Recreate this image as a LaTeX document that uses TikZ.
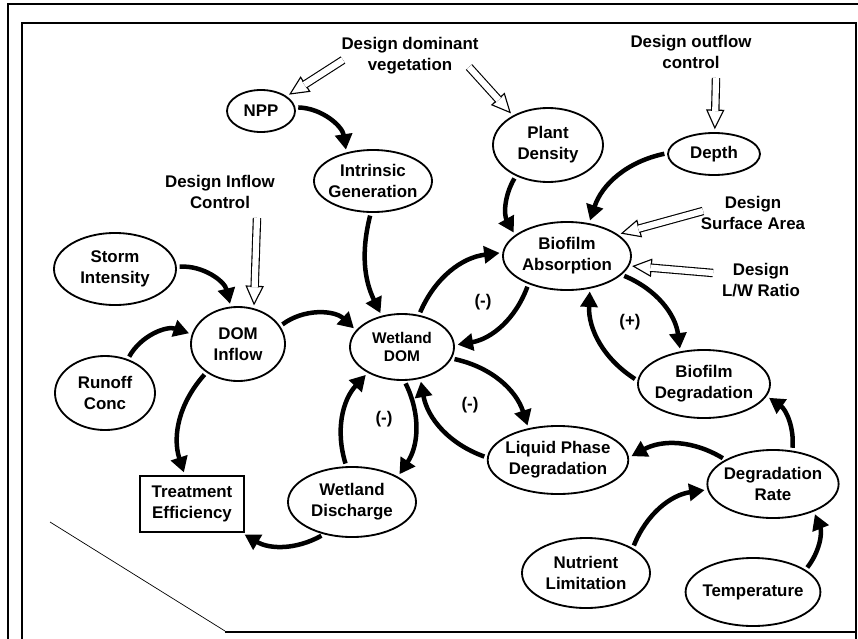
\documentclass[tikz,border=0pt]{standalone}
\usepackage{fontspec}
\setmainfont{Liberation Sans}
\usetikzlibrary{shapes.geometric,arrows.meta}

\tikzset{
  box/.style={ellipse, draw, line width=1.3pt, align=center,
    font=\fontsize{12}{15}\selectfont\bfseries, inner xsep=-2pt, inner ysep=0pt},
  design/.style={align=center, inner sep=0pt, font=\fontsize{12}{15}\selectfont\bfseries},
  sign/.style={inner sep=0pt, font=\fontsize{12}{14}\selectfont\bfseries},
  flow/.style={line width=3.2pt, -{Triangle[length=11pt,width=12pt]},
    shorten <=2pt, shorten >=2pt},
  openhead/.style={line width=0.8pt, -{Triangle[open,fill=white,length=14pt,width=13pt]},
    shorten >=2pt},
  openshaft/.style={line width=0.8pt, double, double distance=4.4pt, shorten >=15pt}
}

% hollow design arrow: tail coordinate, head anchor
\newcommand{\designarrow}[2]{%
  \draw[openhead] (#1) -- (#2);
  \draw[openshaft] (#1) -- (#2);
}

\begin{document}
\begin{tikzpicture}[x=0.025cm, y=-0.025cm]
\useasboundingbox (0,0) rectangle (858,639);

% frame of the page
\draw[line width=2pt] (8,639) -- (8,4) -- (858,4);
\draw[line width=1.8pt] (22,639) -- (22,23) -- (856,23) -- (856,639);
\draw[line width=1.2pt] (225,632) -- (856,632);
\draw[line width=0.5pt] (50,522) -- (225,631);

% design labels
\node[design] (veg) at (410,56) {Design dominant\\vegetation};
\node[design] (outflow) at (691,52) {Design outflow\\control};
\node[design] (inflow) at (220,192) {Design Inflow\\Control};
\node[design] (area) at (753,213) {Design\\Surface Area};
\node[design] (ratio) at (761,280) {Design\\L/W Ratio};

% state variables
\node[box, minimum width=1.7cm, minimum height=1.05cm] (npp) at (261,111) {NPP};
\node[box, minimum width=2.8cm, minimum height=1.55cm] (intr) at (373,181) {Intrinsic\\Generation};
\node[box, minimum width=2.75cm, minimum height=1.85cm] (plant) at (548,145) {Plant\\Density};
\node[box, minimum width=2.3cm, minimum height=1.05cm] (depth) at (714,154) {Depth};
\node[box, minimum width=3.2cm, minimum height=1.7cm] (bioabs) at (567,256) {Biofilm\\Absorption};
\node[box, minimum width=3.05cm, minimum height=1.8cm] (storm) at (115,269) {Storm\\Intensity};
\node[box, minimum width=2.35cm, minimum height=1.85cm] (dominf) at (238,344) {DOM\\Inflow};
\node[box, minimum width=2.5cm, minimum height=1.85cm] (runoff) at (105,393) {Runoff\\Conc};
\node[box, minimum width=2.6cm, minimum height=1.65cm,
  font=\fontsize{11}{13}\selectfont\bfseries] (wdom) at (402,347) {Wetland\\DOM};
\node[draw, line width=1.3pt, align=center, minimum width=2.6cm, minimum height=1.4cm,
  inner sep=0pt, font=\fontsize{12}{15}\selectfont\bfseries] (treat) at (192,504) {Treatment\\Efficiency};
\node[box, minimum width=3.2cm, minimum height=1.75cm] (wdis) at (352,502) {Wetland\\Discharge};
\node[box, minimum width=3.25cm, minimum height=1.7cm] (liquid) at (558,460) {Liquid Phase\\Degradation};
\node[box, minimum width=3.3cm, minimum height=1.7cm] (biodeg) at (704,384) {Biofilm\\Degradation};
\node[box, minimum width=3.25cm, minimum height=1.7cm] (rate) at (773,484) {Degradation\\Rate};
\node[box, minimum width=3.2cm, minimum height=1.75cm] (nutr) at (586,573) {Nutrient\\Limitation};
\node[box, minimum width=3.25cm, minimum height=1.7cm] (temp) at (753,592) {Temperature};

% signs
\node[sign] (sgn1) at (483,302) {(-)};
\node[sign] (sgn2) at (384,419) {(-)};
\node[sign] (sgn3) at (470,405) {(-)};
\node[sign] (sgn4) at (630,322) {(+)};

% design arrows
\coordinate (vegA) at (343,60);
\coordinate (vegB) at (469,67);
\coordinate (outT) at (716,78);
\coordinate (infT) at (257,218);
\coordinate (areaT) at (703,211);
\coordinate (ratioT) at (713,273);
\designarrow{vegA}{npp.30}
\designarrow{vegB}{plant.140}
\designarrow{outT}{depth.88}
\designarrow{infT}{dominf.66}
\designarrow{areaT}{bioabs.23}
\designarrow{ratioT}{bioabs.351}

% flows
\draw[flow, bend left=40] (npp.6) to (intr.133);
\draw[flow, bend right=20] (intr.266) to (wdom.123);
\draw[flow, bend left=40] (storm.2) to (dominf.101);
\draw[flow, bend left=40] (runoff.56) to (dominf.168);
\draw[flow, bend left=40] (dominf.23) to (wdom.160);
\draw[flow, bend right] (dominf.222) to (treat.104);
\draw[flow, bend left] (wdis.229) to (treat.-30);
\draw[flow, bend left] (wdis.99) to (wdom.217);
\draw[flow, bend left] (wdom.274) to (wdis.29);
\draw[flow, bend left] (wdom.347) to (liquid.133);
\draw[flow, bend left] (liquid.178) to (wdom.300);
\draw[flow, bend left] (wdom.62) to (bioabs.177);
\draw[flow, bend left] (bioabs.216) to (wdom.2);
\draw[flow, bend right] (plant.224) to (bioabs.158);
\draw[flow, bend right] (depth.179) to (bioabs.56);
\draw[flow, bend left] (bioabs.341) to (biodeg.126);
\draw[flow, bend left] (biodeg.177) to (bioabs.305);
\draw[flow, bend right] (rate.60) to (biodeg.349);
\draw[flow, bend right] (rate.153) to (liquid.2);
\draw[flow, bend left] (nutr.28) to (rate.185);
\draw[flow, bend right] (temp.23) to (rate.326);
\end{tikzpicture}
\end{document}
